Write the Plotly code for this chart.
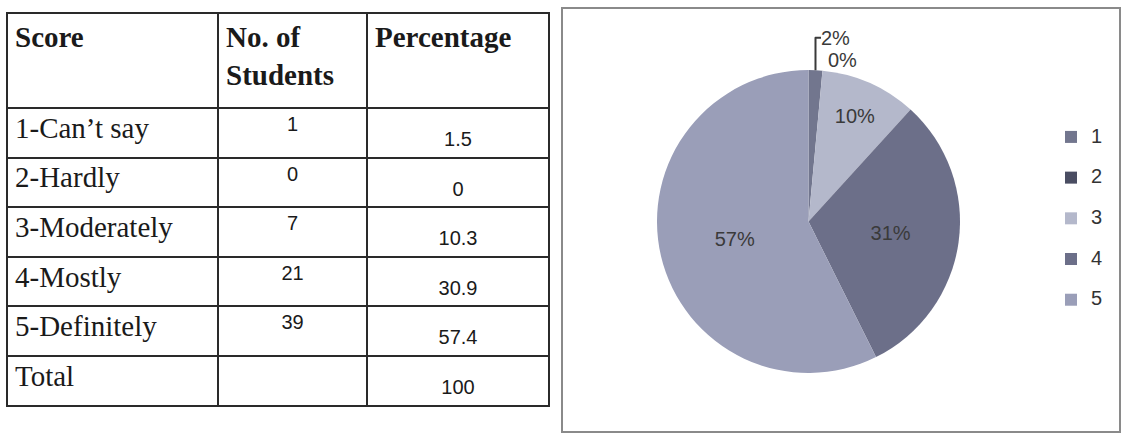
import plotly.graph_objects as go

# ---- data ----
scores = ["1-Can’t say", "2-Hardly", "3-Moderately", "4-Mostly", "5-Definitely"]
students = [1, 0, 7, 21, 39]
percentages = [1.5, 0, 10.3, 30.9, 57.4]
total_label = "Total"
total_pct = 100
headers = ["Score", "No. of<br>Students", "Percentage"]
legend_labels = ["1", "2", "3", "4", "5"]
slice_colors = ["#72768e", "#4a4d62", "#b4b8cb", "#6c6f89", "#9a9eb8"]

W, H = 1123, 434

def px_x(x):
    return x / W

def px_y(y):
    return 1 - y / H

fig = go.Figure()

# ---- table (borders, header, score + count columns) ----
col0 = scores + [total_label]
col1 = [str(s) for s in students] + [""]
col2 = [f"{p:g}" for p in percentages] + [str(total_pct)]

TABLE_TOP = 13
HEADER_H = 95
ROW_H = 49.6
line_col = "#2a2a2a"

fig.add_trace(go.Table(
    domain=dict(x=[px_x(7), px_x(549)], y=[0, px_y(TABLE_TOP)]),
    columnwidth=[211, 149, 182],
    header=dict(
        values=[f"<b>{h}</b>" for h in headers],
        align=["left", "left", "left"],
        height=HEADER_H,
        font=dict(family="Liberation Serif", size=29, color="#1a1a1a"),
        line=dict(color=line_col, width=2),
        fill=dict(color="white"),
    ),
    cells=dict(
        values=[col0, col1, [""] * len(col2)],
        align=["left", "center", "center"],
        height=ROW_H,
        font=dict(family=["Liberation Serif", "Liberation Sans", "Liberation Sans"],
                  size=[29, 20, 20], color="#1a1a1a"),
        line=dict(color=line_col, width=2),
        fill=dict(color="white"),
    ),
))

# ---- percentage column text (sits lower in its cells, as in the reference) ----
fig.add_trace(go.Table(
    domain=dict(x=[px_x(367), px_x(549)], y=[0, px_y(TABLE_TOP + 15)]),
    header=dict(values=[""], height=HEADER_H,
                line=dict(width=0, color="rgba(0,0,0,0)"),
                fill=dict(color="rgba(0,0,0,0)")),
    cells=dict(
        values=[col2],
        align="center",
        height=ROW_H,
        font=dict(family="Liberation Sans", size=20, color="#1a1a1a"),
        line=dict(width=0, color="rgba(0,0,0,0)"),
        fill=dict(color="rgba(0,0,0,0)"),
    ),
))

# ---- pie ----
fig.add_trace(go.Pie(
    labels=[f'<span style="font-size:20px">{k}</span><br> ' for k in legend_labels],
    values=students,
    text=[f"{round(p)}%" for p in percentages],
    textinfo="text",
    textposition=["outside", "outside", "inside", "inside", "inside"],
    insidetextorientation="horizontal",
    textfont=dict(family="Liberation Sans", size=20, color="#3a3a3a"),
    marker=dict(colors=slice_colors, line=dict(width=0)),
    sort=False,
    direction="clockwise",
    rotation=0,
    domain=dict(x=[px_x(657), px_x(960)], y=[px_y(378), px_y(65)]),
    hoverinfo="text+value",
))

fig.update_layout(
    width=W, height=H,
    margin=dict(l=0, r=0, t=0, b=0),
    paper_bgcolor="white",
    plot_bgcolor="white",
    showlegend=True,
    legend=dict(
        x=px_x(1051), y=px_y(121), xanchor="left", yanchor="top",
        font=dict(family="Liberation Sans", size=14.5, color="#333333"),
        bgcolor="rgba(0,0,0,0)",
        valign="top",
    ),
    shapes=[dict(type="rect", xref="paper", yref="paper",
                 x0=px_x(562), x1=px_x(1120), y0=px_y(432), y1=px_y(8),
                 line=dict(color="#8a8a8a", width=2), fillcolor="rgba(0,0,0,0)")],
)

fig.write_html(
    "out.html",
    config={"displayModeBar": False},
    post_script="document.body.style.margin='0';document.body.style.overflow='hidden';",
)
